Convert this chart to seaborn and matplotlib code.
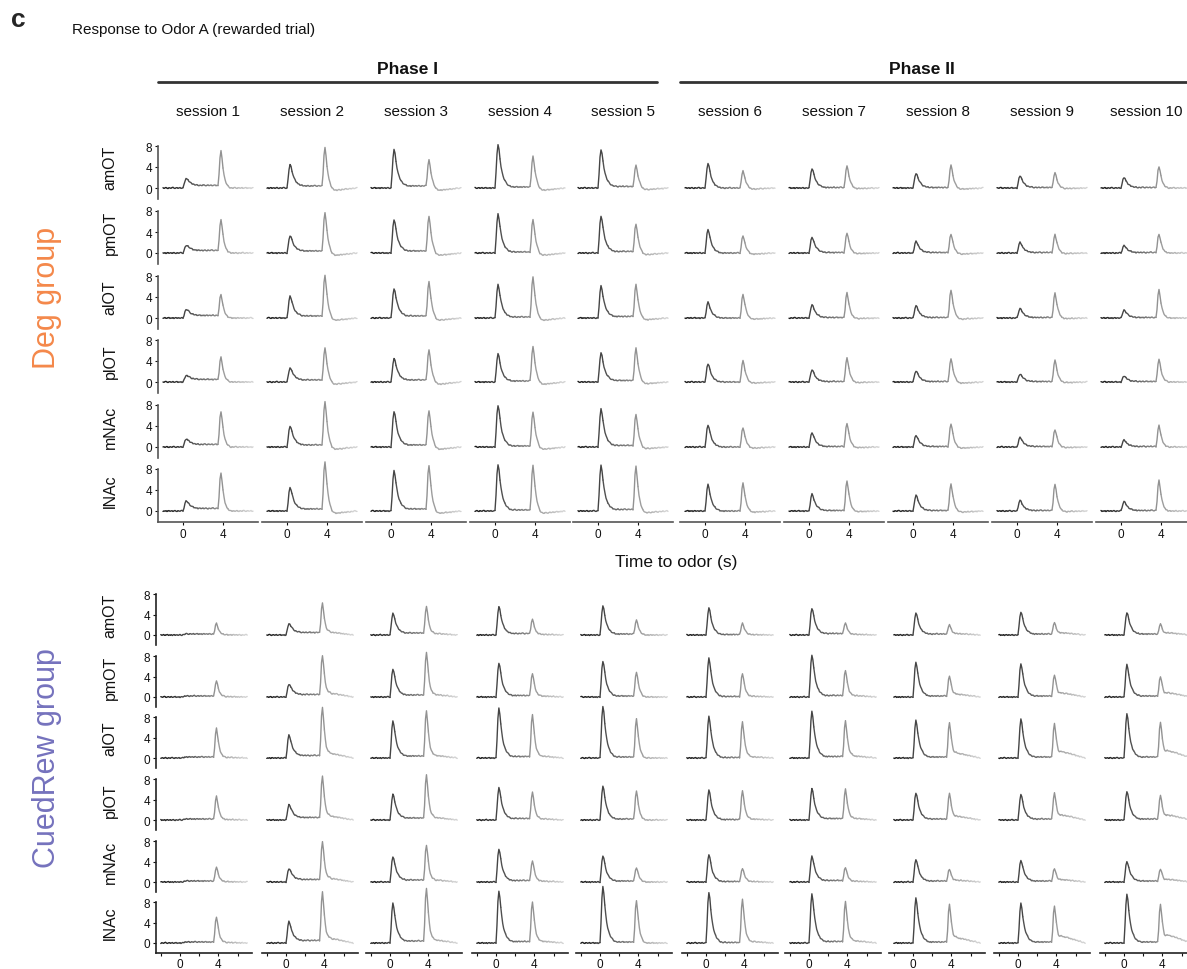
import numpy as np
import pandas as pd
import matplotlib
matplotlib.use("Agg")
import matplotlib.pyplot as plt
from matplotlib.lines import Line2D
import seaborn as sns

sns.set_theme(style="ticks")
plt.rcParams['font.family'] = ['Liberation Sans', 'DejaVu Sans']

# ---------------- data ----------------
sessions = [f"session {i}" for i in range(1, 11)]
regions = ["amOT", "pmOT", "alOT", "plOT", "mNAc", "lNAc"]
groups = ["Deg group", "CuedRew group"]
phases = ["Phase I", "Phase II"]

# peak amplitude of the odor response (~0.3 s) and the reward response (~3.8 s)
deg_odor_amOT = [1.7, 4.4, 7.2, 8.2, 7.3, 4.7, 3.7, 2.8, 2.3, 2.0]
deg_reward_amOT = [7.0, 7.6, 5.3, 6.0, 4.3, 3.3, 4.2, 4.3, 2.9, 4.1]
deg_odor_pmOT = [1.3, 3.2, 6.3, 7.4, 7.0, 4.5, 3.0, 2.2, 2.0, 1.4]
deg_reward_pmOT = [6.3, 7.7, 7.0, 6.4, 5.5, 3.3, 3.8, 3.6, 3.5, 3.6]
deg_odor_alOT = [1.5, 4.1, 5.5, 6.3, 6.0, 3.0, 2.5, 2.3, 1.8, 1.5]
deg_reward_alOT = [4.4, 8.1, 6.8, 7.7, 6.3, 4.5, 4.8, 5.3, 4.7, 5.3]
deg_odor_plOT = [1.1, 2.6, 4.4, 5.3, 5.5, 3.5, 2.3, 2.1, 1.5, 1.1]
deg_reward_plOT = [4.6, 6.4, 6.0, 6.7, 6.4, 4.1, 4.6, 4.4, 4.1, 4.3]
deg_odor_mNAc = [1.4, 3.9, 6.7, 7.9, 7.2, 4.2, 2.7, 2.2, 1.8, 1.3]
deg_reward_mNAc = [6.7, 8.6, 6.9, 6.7, 6.2, 3.7, 4.5, 4.4, 3.3, 4.1]
deg_odor_lNAc = [1.8, 4.4, 7.6, 8.8, 8.6, 5.0, 3.2, 3.0, 2.0, 1.8]
deg_reward_lNAc = [7.2, 9.3, 8.6, 8.6, 8.4, 5.3, 5.7, 5.1, 5.1, 5.8]

cued_odor_amOT = [0.0, 2.1, 4.2, 5.5, 5.6, 5.3, 5.2, 4.3, 4.5, 4.4]
cued_reward_amOT = [2.2, 6.1, 5.5, 3.0, 2.9, 2.3, 2.3, 2.0, 2.4, 2.1]
cued_odor_pmOT = [0.0, 2.4, 5.4, 6.6, 7.0, 7.6, 8.2, 6.8, 6.5, 6.3]
cued_reward_pmOT = [3.1, 8.1, 8.7, 4.6, 4.9, 4.6, 5.2, 4.1, 4.3, 4.0]
cued_odor_alOT = [0.0, 4.4, 7.2, 9.7, 10.1, 8.1, 9.0, 7.3, 7.6, 8.6]
cued_reward_alOT = [5.8, 9.9, 9.2, 8.5, 7.6, 7.0, 7.2, 6.9, 6.7, 7.0]
cued_odor_plOT = [0.0, 2.9, 5.0, 6.3, 6.6, 5.8, 6.1, 5.3, 5.0, 5.6]
cued_reward_plOT = [4.6, 8.4, 8.7, 5.4, 5.6, 5.7, 6.0, 5.2, 5.3, 4.8]
cued_odor_mNAc = [0.0, 2.5, 4.9, 6.4, 5.1, 5.4, 5.0, 4.4, 4.2, 4.0]
cued_reward_mNAc = [2.8, 7.8, 7.2, 4.1, 2.8, 2.7, 2.8, 2.5, 2.6, 2.5]
cued_odor_lNAc = [0.0, 4.1, 7.7, 10.1, 11.0, 9.9, 9.5, 8.7, 7.7, 9.5]
cued_reward_lNAc = [5.1, 9.9, 10.7, 8.0, 8.3, 8.5, 8.0, 7.5, 7.2, 7.5]

# sustained level between odor and reward, and level after the reward
deg_plateau = [0.5, 0.4, 0.4, 0.2, 0.3, 0.0, 0.1, 0.1, 0.1, 0.1]
deg_post = [0.0, -0.4, -0.4, -0.4, -0.3, -0.2, -0.1, -0.2, -0.1, 0.0]
cued_plateau = [0.2, 0.5, 0.4, 0.3, 0.2, 0.1, 0.3, 0.2, 0.2, 0.2]
cued_post_frac = [0.02, 0.08, 0.05, 0.04, 0.0, 0.03, 0.05, 0.12, 0.16, 0.18]

time_s = np.round(np.arange(-2.0, 7.0001, 0.1), 1)
odor_kernel = [0.0, 0.35, 0.8, 1.0, 0.88, 0.66, 0.48, 0.35, 0.26, 0.19, 0.14,
               0.10, 0.07, 0.05, 0.03, 0.02, 0.01, 0.0]          # from t = 0.0
reward_kernel = [0.0, 0.3, 0.8, 1.0, 0.8, 0.55, 0.36, 0.23, 0.15, 0.09,
                 0.05, 0.03, 0.01, 0.0]                            # from t = 3.5
plateau_kernel = [0.2, 0.5, 0.8] + [1.0] * 30 + [0.8, 0.5, 0.2]    # from t = 0.3
post_kernel = [0.3, 0.6, 0.9, 1.0, 1.0, 1.0, 1.0, 1.0, 0.95, 0.9, 0.85, 0.8,
               0.75, 0.7, 0.65, 0.6, 0.55, 0.5, 0.45, 0.4, 0.35, 0.3, 0.25,
               0.2, 0.15, 0.1, 0.05, 0.0]                          # from t = 4.3
wiggle = [0.05, -0.08, 0.02, 0.10, -0.04, -0.10, 0.06, 0.00, -0.06, 0.08,
          0.12, -0.02, -0.09, 0.03, 0.07, -0.05, 0.00, 0.09, -0.07, -0.03,
          0.05, 0.10, -0.08, 0.02, -0.04, 0.06, -0.10, 0.03, 0.08, -0.06, 0.01]

odor = {
    "Deg group": dict(amOT=deg_odor_amOT, pmOT=deg_odor_pmOT, alOT=deg_odor_alOT,
                      plOT=deg_odor_plOT, mNAc=deg_odor_mNAc, lNAc=deg_odor_lNAc),
    "CuedRew group": dict(amOT=cued_odor_amOT, pmOT=cued_odor_pmOT, alOT=cued_odor_alOT,
                          plOT=cued_odor_plOT, mNAc=cued_odor_mNAc, lNAc=cued_odor_lNAc),
}
reward = {
    "Deg group": dict(amOT=deg_reward_amOT, pmOT=deg_reward_pmOT, alOT=deg_reward_alOT,
                      plOT=deg_reward_plOT, mNAc=deg_reward_mNAc, lNAc=deg_reward_lNAc),
    "CuedRew group": dict(amOT=cued_reward_amOT, pmOT=cued_reward_pmOT, alOT=cued_reward_alOT,
                          plOT=cued_reward_plOT, mNAc=cued_reward_mNAc, lNAc=cued_reward_lNAc),
}


def place(kernel, t0):
    out = np.zeros(len(time_s))
    i0 = int(round((t0 + 2.0) * 10))
    k = np.asarray(kernel)[: len(time_s) - i0]
    out[i0:i0 + len(k)] = k
    return out


K_ODOR = place(odor_kernel, 0.0)
K_REW = place(reward_kernel, 3.5)
K_PLAT = place(plateau_kernel, 0.3)
K_POST = place(post_kernel, 4.3)


def trace(group, region, s, idx):
    a_o = odor[group][region][s]
    a_r = reward[group][region][s]
    if group == "Deg group":
        plat, post = deg_plateau[s], deg_post[s]
    else:
        plat, post = cued_plateau[s], cued_post_frac[s] * a_r
    w = np.resize(np.roll(wiggle, idx * 7), len(time_s))
    return a_o * K_ODOR + a_r * K_REW + plat * K_PLAT + post * K_POST + w


N_CHUNK = 18
chunk_palette = {k: (g, g, g) for k, g in
                 ((k, 0.08 + 0.77 * (k + 0.5) / N_CHUNK) for k in range(N_CHUNK))}


def trace_frame(y):
    rows = []
    for k in range(N_CHUNK):
        for i in range(5 * k, 5 * k + 6):
            rows.append((time_s[i], y[i], k))
    return pd.DataFrame(rows, columns=["t", "y", "chunk"])


# ---------------- layout ----------------
W, H = 1187, 970
fig = plt.figure(figsize=(W / 100, H / 100), dpi=100)

layout = {
    "Deg group": dict(lefts=[158, 262, 366, 470, 573, 680, 784, 888, 992, 1096], width=100,
                      zeros=[189, 254, 319, 383, 448, 512], unit=5.25, ylo=-2.1,
                      xticks=[0, 4], xlabels=["0", "4"], axcol="#555555"),
    "CuedRew group": dict(lefts=[156, 262, 366, 472, 576, 682, 785, 889, 994, 1100], width=96,
                          zeros=[636, 698, 759, 821, 883, 944], unit=5.1, ylo=-1.9,
                          xticks=[-2, 0, 2, 4, 6], xlabels=["", "0", "", "4", ""],
                          axcol="#222222"),
}
YHI = 8.2

pidx = 0
for group in groups:
    L = layout[group]
    YLO = L["ylo"]
    for r, region in enumerate(regions):
        z = L["zeros"][r]
        u = L["unit"]
        top = z - YHI * u
        h = (YHI - YLO) * u
        for s in range(10):
            left = L["lefts"][s]
            ax = fig.add_axes([left / W, 1 - (top + h) / H, L["width"] / W, h / H])
            df = trace_frame(trace(group, region, s, pidx))
            pidx += 1
            sns.lineplot(data=df, x="t", y="y", hue="chunk", palette=chunk_palette,
                         estimator=None, errorbar=None, legend=False, ax=ax,
                         linewidth=1.0, clip_on=False)
            ax.set_xlim(-2.5, 7.5)
            ax.set_ylim(YLO, YHI)
            ax.set_xlabel("")
            ax.set_ylabel("")
            ax.patch.set_alpha(0)
            for sp in ("top", "right"):
                ax.spines[sp].set_visible(False)
            ax.tick_params(labelsize=8.5, length=2.5, width=0.8, pad=1.5, colors="#111111")
            if s == 0:
                ax.spines["left"].set_bounds(YLO, 8)
                ax.spines["left"].set_color(L["axcol"])
                ax.spines["left"].set_linewidth(1.2)
                ax.set_yticks([0, 4, 8])
            else:
                ax.spines["left"].set_visible(False)
                ax.set_yticks([])
            if r == len(regions) - 1:
                ax.spines["bottom"].set_color(L["axcol"])
                ax.spines["bottom"].set_linewidth(1.2)
                ax.set_xticks(L["xticks"])
                ax.set_xticklabels(L["xlabels"])
            else:
                ax.spines["bottom"].set_visible(False)
                ax.set_xticks([])
        fig.text(110 / W, 1 - (z - 4 * u) / H, region, rotation=90,
                 ha="center", va="center", fontsize=11.5, color="#111111")

# ---------------- texts & decorations ----------------
fig.text(11 / W, 1 - 20 / H, "c", fontsize=19, fontweight="bold", ha="left", va="center")
fig.text(72 / W, 1 - 30 / H, "Response to Odor A (rewarded trial)", fontsize=11,
         ha="left", va="center", color="#111111")

for name, x0, x1 in [(phases[0], 158, 657), (phases[1], 680, 1187)]:
    fig.add_artist(Line2D([x0 / W, x1 / W], [1 - 83 / H, 1 - 83 / H],
                          color="#333333", lw=2.0))
    fig.text((x0 + x1) / 2 / W - (0 if name == "Phase I" else 12 / W), 1 - 69 / H, name,
             fontsize=12.5, fontweight="bold", ha="center", va="center", color="#111111")

for s, lab in enumerate(sessions):
    cx = layout["Deg group"]["lefts"][s] + 50
    fig.text(cx / W, 1 - 112 / H, lab, fontsize=11, ha="center", va="center", color="#111111")

fig.text(676 / W, 1 - 563 / H, "Time to odor (s)", fontsize=12.5, ha="center", va="center",
         color="#111111")

fig.text(47 / W, 1 - 298 / H, groups[0], rotation=90, fontsize=22, color="#F4884A",
         ha="center", va="center")
fig.text(47 / W, 1 - 758 / H, groups[1], rotation=90, fontsize=22, color="#7572BD",
         ha="center", va="center")

fig.savefig("out.png", dpi=100)
